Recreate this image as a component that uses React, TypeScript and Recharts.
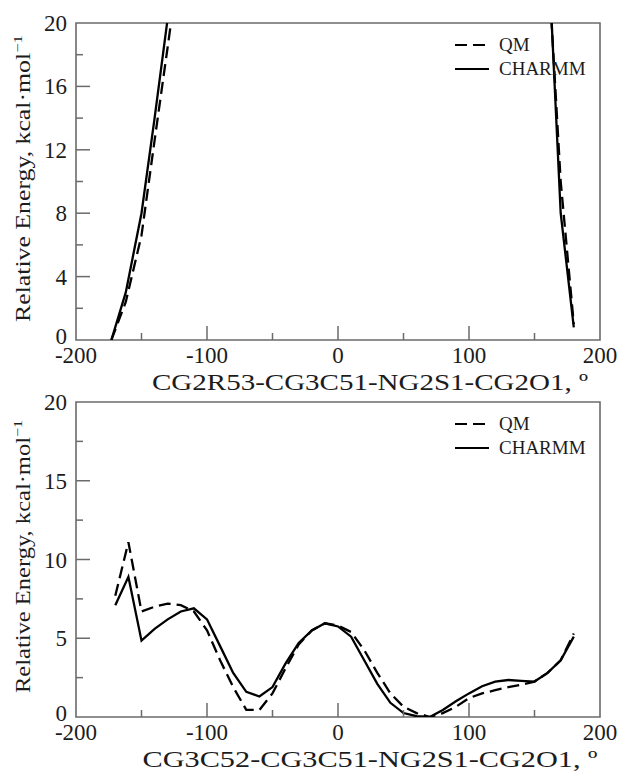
import { LineChart, Line, XAxis, YAxis, ReferenceArea, Legend, Label } from 'recharts'

const FONT = '"Liberation Serif", "Times New Roman", serif'
const INK = '#1c1c1c'
const FRAME = '#6b6b6b'

// top panel: two branches of the scan, the null splits them
const topAngles = [-173, -162, -150, -140, -130, -125, 0, 162, 170, 180]
const topQm = [0, 2.4, 6.6, 12.6, 18.5, 21.5, null, 21.5, 10, 1.0]
const topCharmm = [0, 3, 8, 14, 20.3, 23.5, null, 22, 8, 0.8]

// bottom panel: full scan, 10 degree steps
const bottomAngles = [
  -170, -160, -150, -140, -130, -120, -110, -100, -90, -80, -70, -60, -50, -40, -30, -20, -10, 0,
  10, 20, 30, 40, 50, 60, 70, 80, 90, 100, 110, 120, 130, 140, 150, 160, 170, 180,
]
const bottomQm = [
  7.7, 11.1, 6.7, 7.0, 7.2, 7.1, 6.7, 5.5, 3.6, 1.9, 0.45, 0.45, 1.5, 3.1, 4.6, 5.5, 5.95, 5.8,
  5.4, 4.25, 2.8, 1.5, 0.65, 0.25, 0, 0.25, 0.65, 1.2, 1.5, 1.7, 1.9, 2.05, 2.25, 2.8, 3.6, 5.3,
]
const bottomCharmm = [
  7.1, 8.9, 4.85, 5.6, 6.2, 6.7, 6.9, 6.2, 4.5, 2.8, 1.6, 1.3, 1.9, 3.4, 4.7, 5.5, 5.95, 5.75,
  5.1, 3.6, 2.1, 0.9, 0.25, 0.05, 0, 0.45, 1.0, 1.5, 1.95, 2.25, 2.35, 2.3, 2.25, 2.8, 3.6, 5.1,
]

const xTicks = [-200, -150, -100, -50, 0, 50, 100, 150, 200]
const xLabels = [-200, -100, 0, 100, 200]
const topYTicks = [0, 2, 4, 6, 8, 10, 12, 14, 16, 18, 20]
const topYLabels = [0, 4, 8, 12, 16, 20]
const bottomYTicks = [0, 2.5, 5, 7.5, 10, 12.5, 15, 17.5, 20]
const bottomYLabels = [0, 5, 10, 15, 20]

const toRows = (angles: number[], qm: (number | null)[], charmm: (number | null)[]) =>
  angles.map((angle, i) => ({ angle, qm: qm[i], charmm: charmm[i] }))

const PLOT_LEFT = 76
const PLOT_RIGHT = 600

function LegendBox() {
  const rows: [string, string | undefined][] = [
    ['QM', '12 6'],
    ['CHARMM', undefined],
  ]
  return (
    <div style={{ fontFamily: FONT, fontSize: 19, color: INK }}>
      {rows.map(([name, dash]) => (
        <div key={name} style={{ display: 'flex', alignItems: 'center', height: 24 }}>
          <svg width={34} height={24} style={{ marginRight: 10 }}>
            <line x1={0} x2={34} y1={12} y2={12} stroke="#000" strokeWidth={2.2} strokeDasharray={dash} />
          </svg>
          <span>{name}</span>
        </div>
      ))}
    </div>
  )
}

interface PanelProps {
  top: number
  height: number
  marginTop: number
  plotHeight: number
  data: { angle: number; qm: number | null; charmm: number | null }[]
  yTicks: number[]
  yLabels: number[]
  xTitle: string
  xTitleWidth: number
  yTitleWidth: number
}

function Panel({ top, height, marginTop, plotHeight, data, yTicks, yLabels, xTitle, xTitleWidth, yTitleWidth }: PanelProps) {
  const plotBottom = marginTop + plotHeight
  const yCenter = marginTop + plotHeight / 2 - 3

  const xTick = (props: any) => {
    const { x, payload } = props
    const v = payload.value
    const major = xLabels.includes(v)
    return (
      <g>
        {v > -200 && v < 200 && (
          <line x1={x} x2={x} y1={plotBottom} y2={plotBottom - (major ? 14 : 7)} stroke={FRAME} strokeWidth={1.5} />
        )}
        {major && (
          <text x={x} y={plotBottom + 23} textAnchor="middle" fontFamily={FONT} fontSize={23} fill={INK}>
            {v}
          </text>
        )}
      </g>
    )
  }

  const yTick = (props: any) => {
    const { y, payload } = props
    const v = payload.value
    const major = yLabels.includes(v)
    // the 0 label sits a little higher so it clears the -200 below it
    const dy = v === 0 ? 4 : 8
    return (
      <g>
        {v > 0 && v < 20 && (
          <line x1={PLOT_LEFT} x2={PLOT_LEFT + (major ? 14 : 7)} y1={y} y2={y} stroke={FRAME} strokeWidth={1.5} />
        )}
        {major && (
          <text x={PLOT_LEFT - 9} y={y + dy} textAnchor="end" fontFamily={FONT} fontSize={23} fill={INK}>
            {v}
          </text>
        )}
      </g>
    )
  }

  return (
    <div style={{ position: 'absolute', left: 0, top }}>
      <LineChart width={624} height={height} data={data} margin={{ top: marginTop, right: 624 - PLOT_RIGHT, bottom: 0, left: 0 }}>
        <XAxis
          type="number"
          dataKey="angle"
          domain={[-200, 200]}
          ticks={xTicks}
          interval={0}
          axisLine={false}
          tickLine={false}
          tickSize={0}
          tickMargin={0}
          tick={xTick}
          height={height - plotBottom}
        >
          <Label
            content={() => (
              <text
                x={370}
                y={plotBottom + 50}
                textAnchor="middle"
                fontFamily={FONT}
                fontSize={23}
                fill={INK}
                textLength={xTitleWidth}
                lengthAdjust="spacingAndGlyphs"
              >
                {xTitle}
              </text>
            )}
          />
        </XAxis>
        <YAxis
          type="number"
          domain={[0, 20]}
          allowDataOverflow
          ticks={yTicks}
          interval={0}
          axisLine={false}
          tickLine={false}
          tickSize={0}
          tickMargin={0}
          tick={yTick}
          width={PLOT_LEFT}
        >
          <Label
            content={() => (
              <text
                x={30}
                y={yCenter}
                transform={`rotate(-90, 30, ${yCenter})`}
                textAnchor="middle"
                fontFamily={FONT}
                fontSize={20}
                fill={INK}
                textLength={yTitleWidth}
                lengthAdjust="spacingAndGlyphs"
              >
                Relative Energy, kcal·mol
                <tspan dy={-8} fontSize={13}>
                  −1
                </tspan>
              </text>
            )}
          />
        </YAxis>
        <ReferenceArea x1={-200} x2={200} y1={0} y2={20} fill="none" stroke={FRAME} strokeWidth={1.6} />
        <Legend
          layout="vertical"
          align="center"
          verticalAlign="middle"
          wrapperStyle={{ left: 455, top: marginTop + 10, width: 150, height: 48 }}
          content={() => <LegendBox />}
        />
        <Line
          dataKey="qm"
          name="QM"
          type="linear"
          stroke="#000"
          strokeWidth={2.3}
          strokeDasharray="12 6"
          dot={false}
          isAnimationActive={false}
        />
        <Line
          dataKey="charmm"
          name="CHARMM"
          type="linear"
          stroke="#000"
          strokeWidth={2.3}
          dot={false}
          isAnimationActive={false}
        />
      </LineChart>
    </div>
  )
}

export default function App() {
  return (
    <div style={{ position: 'absolute', left: 0, top: 0, width: 624, height: 773, background: '#fff', overflow: 'hidden' }}>
      <Panel
        top={0}
        height={395}
        marginTop={23}
        plotHeight={317}
        data={toRows(topAngles, topQm, topCharmm)}
        yTicks={topYTicks}
        yLabels={topYLabels}
        xTitle="CG2R53-CG3C51-NG2S1-CG2O1,  º"
        xTitleWidth={436}
        yTitleWidth={287}
      />
      <Panel
        top={380}
        height={393}
        marginTop={22}
        plotHeight={315}
        data={toRows(bottomAngles, bottomQm, bottomCharmm)}
        yTicks={bottomYTicks}
        yLabels={bottomYLabels}
        xTitle="CG3C52-CG3C51-NG2S1-CG2O1,  º"
        xTitleWidth={455}
        yTitleWidth={273}
      />
    </div>
  )
}
